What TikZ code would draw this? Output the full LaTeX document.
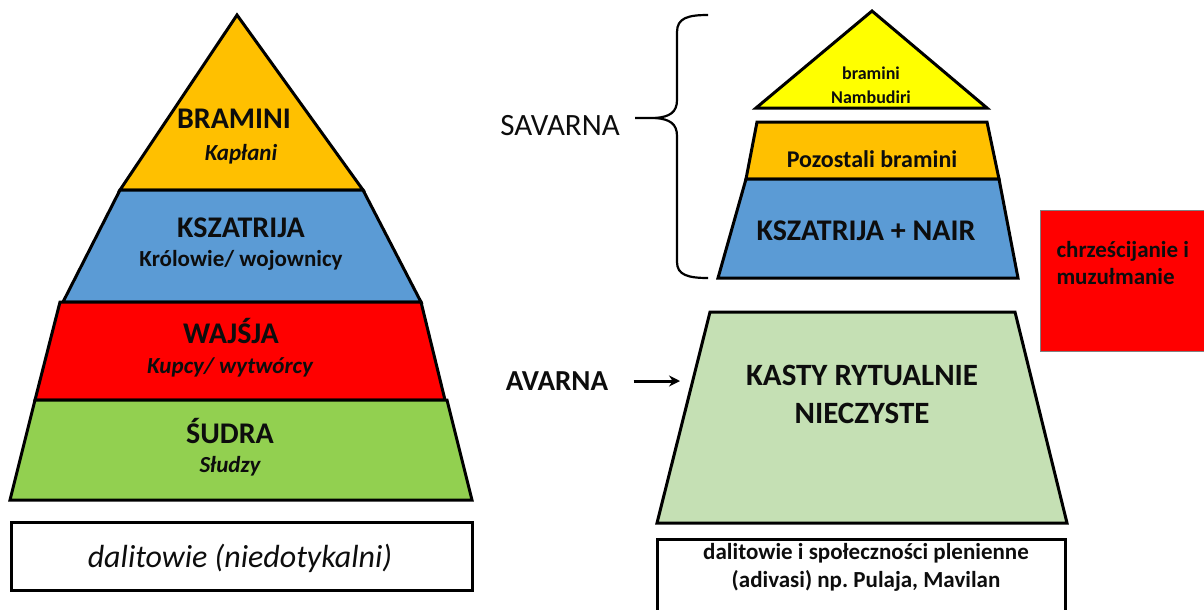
\documentclass[tikz,border=0pt]{standalone}
\usepackage{fontspec}
\setmainfont{Carlito}
\usepackage{xcolor}
\usepackage{tikz}
\usetikzlibrary{arrows.meta,positioning}
\definecolor{bramin}{HTML}{FFC000}
\definecolor{nambu}{HTML}{FFFF00}
\definecolor{ksatr}{HTML}{5B9BD5}
\definecolor{vais}{HTML}{FF0000}
\definecolor{sudr}{HTML}{92D050}
\definecolor{impure}{HTML}{C5E0B4}
\definecolor{ink}{HTML}{0D0D0D}
\frenchspacing

\begin{document}
\begin{tikzpicture}[
    x=1pt, y=-1pt,
    tier/.style={draw=black, line width=3pt},
    caste/.style={anchor=base, text=ink, font=\bfseries\fontsize{30}{38}\selectfont},
    duty/.style={anchor=base, text=ink, font=\bfseries\itshape\fontsize{23}{28}\selectfont},
    small/.style={anchor=base, text=ink, align=center, font=\bfseries\fontsize{23}{28}\selectfont},
    arrow/.style={-{Stealth[length=11pt,width=11pt]}, line width=3pt}
]
\useasboundingbox (0,0) rectangle (1204,610);
\clip (0,0) rectangle (1204,610);

% Left pyramid
\draw[tier, fill=bramin] (237,15) -- (363,190) -- (120,190) -- cycle;
\draw[tier, fill=ksatr] (120,190) -- (363,190) -- (421,302) -- (63,302) -- cycle;
\draw[tier, fill=vais] (60,302) -- (421,302) -- (445,400) -- (35,400) -- cycle;
\draw[tier, fill=sudr] (35,400) -- (447,400) -- (472,500) -- (10,500) -- cycle;
\draw[tier, fill=white] (11,522) rectangle (472,590);

\node[caste] (bramini) at (234,128) {BRAMINI};
\node[duty] (kaplani) at (241,160) {Kapłani};
\node[caste] (kszatrija) at (241,237) {KSZATRIJA};
\node[small] (krolowie) at (241,266) {Królowie/ wojownicy};
\node[caste] (wajsja) at (231,343) {WAJŚJA};
\node[duty] (kupcy) at (230,373) {Kupcy/ wytwórcy};
\node[caste] (sudra) at (230,443) {ŚUDRA};
\node[duty] (sludzy) at (230,472) {Słudzy};
\node[anchor=base, text=ink, font=\itshape\fontsize{32}{38}\selectfont] (dalici) at (240,567) {dalitowie (niedotykalni)};

% Right pyramid
\draw[tier, fill=nambu] (872,11) -- (987,108) -- (756,108) -- cycle;
\draw[tier, fill=bramin] (757,122) -- (987,122) -- (999,179) -- (746,179) -- cycle;
\draw[tier, fill=ksatr] (746,179) -- (999,179) -- (1018,278) -- (718,278) -- cycle;
\draw[tier, fill=impure] (710,312) -- (1015,312) -- (1067,523) -- (657,523) -- cycle;
\draw[tier, fill=white] (657,539) rectangle (1065,620);
\draw[draw=gray, line width=1pt, fill=vais] (1040,210) rectangle (1210,351);

\node[small, font=\bfseries\fontsize{18}{24}\selectfont] (nambudiri) at (871,103) {bramini\\Nambudiri};
\node[small, font=\bfseries\fontsize{24}{28}\selectfont] (pozostali) at (872,167) {Pozostali bramini};
\node[caste] (nair) at (866,240) {KSZATRIJA + NAIR};
\node[caste, align=center, font=\bfseries\fontsize{31}{38}\selectfont] (kasty) at (862,423) {KASTY RYTUALNIE\\NIECZYSTE};
\node[small] (adivasi) at (866,587) {dalitowie i społeczności plenienne\\(adivasi) np. Pulaja, Mavilan};
\node[small, anchor=base west, align=left, font=\bfseries\fontsize{23}{27}\selectfont] (inni) at (1053,284) {chrześcijanie i\\muzułmanie};

% Labels on the left of the right pyramid
\node[anchor=base, text=ink, font=\fontsize{31}{36}\selectfont] (savarna) at (560,135) {SAVARNA};
\node[anchor=base, text=ink, font=\bfseries\fontsize{29}{36}\selectfont] (avarna) at (557,390) {AVARNA};
\coordinate (target) at (680,381);
\draw[arrow, shorten <=22pt] (avarna.east |- target) -- (target);

% Brace
\coordinate (tip) at (635,118);
\draw[line width=2.2pt] (708,15) .. controls (688,15) and (677,18) .. (677,32)
    -- (677,100) .. controls (677,112) and (670,117) .. (655,118) -- (tip);
\draw[line width=2.2pt] (655,118) .. controls (670,119) and (677,124) .. (677,136)
    -- (677,262) .. controls (677,275) and (688,278) .. (708,278);

\end{tikzpicture}
\end{document}
